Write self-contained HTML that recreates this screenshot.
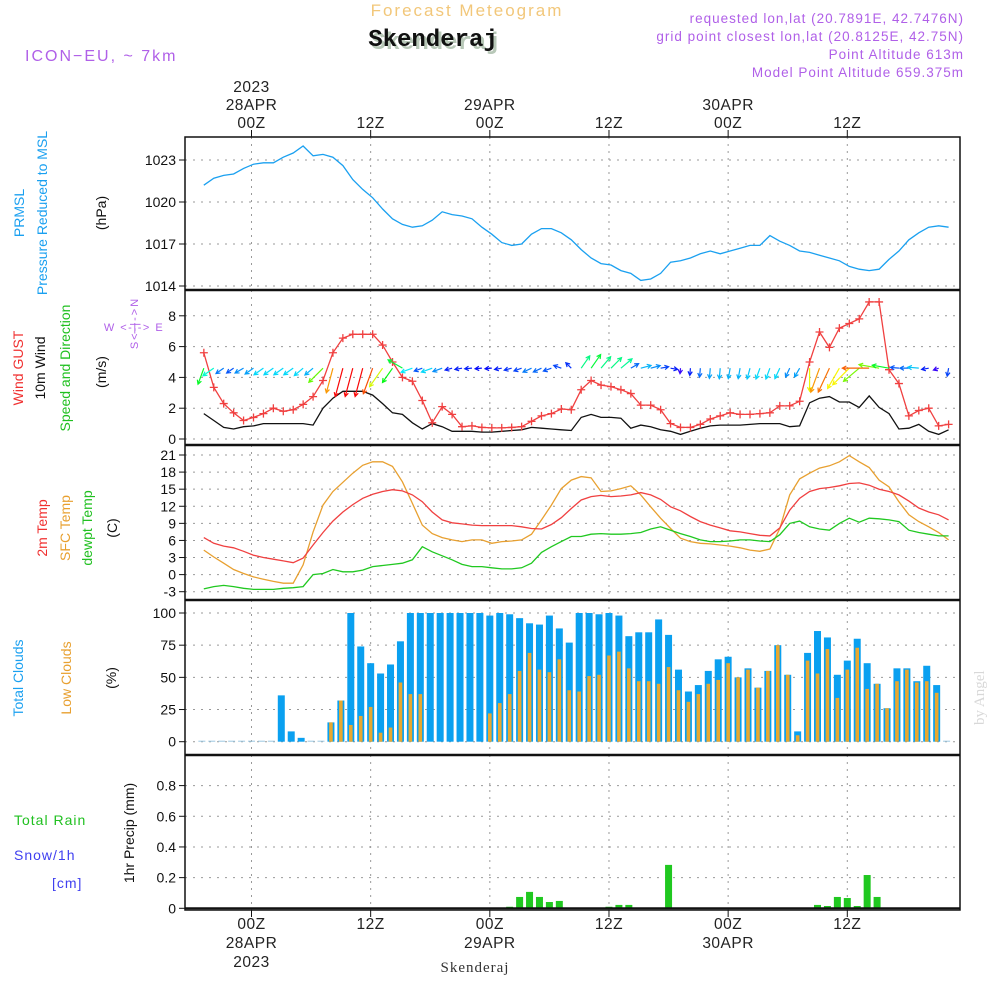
<!DOCTYPE html>
<html><head><meta charset="utf-8"><style>
html,body{margin:0;padding:0;background:#fff;}
svg{display:block;font-family:"Liberation Sans",sans-serif;}
</style></head><body>
<svg id="chart" width="1000" height="1000" viewBox="0 0 1000 1000" xmlns="http://www.w3.org/2000/svg">
<rect width="1000" height="1000" fill="#fff"/>
<text x="467" y="16" text-anchor="middle" font-size="17" fill="#f2c77a" letter-spacing="2">Forecast Meteogram</text>
<text x="436" y="49" text-anchor="middle" font-family="Liberation Mono,monospace" font-weight="bold" font-size="24" fill="#b8c8b8">Skenderaj</text>
<text x="433" y="46" text-anchor="middle" font-family="Liberation Mono,monospace" font-weight="bold" font-size="24" fill="#111">Skenderaj</text>
<text x="25" y="61" font-size="16" fill="#b060e8" letter-spacing="2">ICON−EU, ~ 7km</text>
<g font-size="13.5" fill="#b060e8" text-anchor="end" letter-spacing="1">
<text x="964" y="23">requested lon,lat (20.7891E, 42.7476N)</text>
<text x="964" y="41">grid point closest lon,lat (20.8125E, 42.75N)</text>
<text x="964" y="59">Point Altitude 613m</text>
<text x="964" y="77">Model Point Altitude 659.375m</text>
</g>
<text transform="translate(984,725) rotate(-90)" font-family="Liberation Serif,serif" font-size="15" fill="#d8d8d8">by Angel</text>
<text x="475" y="972" text-anchor="middle" font-family="Liberation Serif,serif" font-size="15" fill="#333" letter-spacing="1">Skenderaj</text>

<g font-size="14">
<text transform="translate(24,213) rotate(-90)" text-anchor="middle" fill="#1aa0f0">PRMSL</text>
<text transform="translate(47,213) rotate(-90)" text-anchor="middle" fill="#1aa0f0">Pressure Reduced to MSL</text>
<text transform="translate(106,213) rotate(-90)" text-anchor="middle" fill="#111">(hPa)</text>
<text transform="translate(23,368) rotate(-90)" text-anchor="middle" fill="#f03030">Wind GUST</text>
<text transform="translate(45,368) rotate(-90)" text-anchor="middle" fill="#111">10m Wind</text>
<text transform="translate(70,368) rotate(-90)" text-anchor="middle" fill="#20c020">Speed and Direction</text>
<text transform="translate(106,372) rotate(-90)" text-anchor="middle" fill="#111">(m/s)</text>
<text transform="translate(47,528) rotate(-90)" text-anchor="middle" fill="#f03030">2m Temp</text>
<text transform="translate(70,528) rotate(-90)" text-anchor="middle" fill="#e8a030">SFC Temp</text>
<text transform="translate(92,528) rotate(-90)" text-anchor="middle" fill="#20c020">dewpt Temp</text>
<text transform="translate(117,528) rotate(-90)" text-anchor="middle" fill="#111">(C)</text>
<text transform="translate(23,678) rotate(-90)" text-anchor="middle" fill="#1aa0f0">Total Clouds</text>
<text transform="translate(71,678) rotate(-90)" text-anchor="middle" fill="#e8a030">Low Clouds</text>
<text transform="translate(116,678) rotate(-90)" text-anchor="middle" fill="#111">(%)</text>
<text x="14" y="825" fill="#20c020" letter-spacing="1">Total  Rain</text>
<text x="14" y="860" fill="#4040f0" letter-spacing="1">Snow/1h</text>
<text x="52" y="888" fill="#4040f0" letter-spacing="1">[cm]</text>
<text transform="translate(134,833) rotate(-90)" text-anchor="middle" fill="#111">1hr Precip (mm)</text>
</g>
<g fill="#b060e8" font-size="11">
<text x="134" y="331" text-anchor="middle" letter-spacing="1.5">W  &lt;-|-&gt;  E</text>
<text transform="translate(138,323) rotate(-90)" text-anchor="middle" letter-spacing="2">S&lt;-|-&gt;N</text>
</g>
<g id="plot"></g>
</svg>
<script>
const hours0 = -5;
const pressure = [1021.2,1021.7,1021.9,1022.0,1022.4,1022.7,1022.8,1022.8,1023.2,1023.5,1024.0,1023.3,1023.4,1023.2,1022.6,1021.6,1020.9,1020.3,1019.5,1018.8,1018.4,1018.2,1018.3,1018.7,1019.3,1019.1,1019.0,1018.8,1018.2,1017.7,1017.1,1016.9,1017.0,1017.7,1018.1,1018.1,1017.8,1017.3,1016.6,1016.0,1015.6,1015.5,1015.1,1014.9,1014.4,1014.5,1014.9,1015.7,1015.8,1016.0,1016.3,1016.5,1016.3,1016.5,1016.7,1016.9,1016.9,1017.6,1017.2,1016.9,1016.5,1016.4,1016.2,1016.0,1015.8,1015.4,1015.2,1015.1,1015.2,1015.9,1016.5,1017.3,1017.8,1018.2,1018.3,1018.2];
const gust = [5.6,3.35,2.3,1.7,1.2,1.4,1.65,2.0,1.8,1.9,2.25,2.75,3.8,5.6,6.55,6.8,6.8,6.8,6.1,5.0,4.0,3.75,2.5,1.05,2.1,1.6,0.8,0.85,0.75,0.72,0.72,0.75,0.8,1.15,1.5,1.65,1.95,1.9,3.2,3.8,3.5,3.4,3.2,2.95,2.2,2.2,1.9,1.0,0.75,0.75,0.95,1.3,1.5,1.7,1.6,1.6,1.65,1.7,2.15,2.15,2.45,5.0,6.95,5.95,7.2,7.5,7.8,8.9,8.9,4.5,3.6,1.5,1.85,2.0,0.85,0.95];
const windSpeed = [1.65,1.2,0.75,0.65,0.8,0.85,1.0,1.0,1.0,1.0,1.0,0.9,2.0,2.65,3.1,3.1,3.1,2.85,2.3,1.7,1.6,1.05,0.65,1.0,0.8,0.5,0.5,0.5,0.45,0.45,0.5,0.55,0.6,0.75,0.7,0.65,0.6,0.55,1.4,1.6,1.4,1.4,1.35,0.7,0.9,0.8,0.6,0.5,0.3,0.5,0.7,0.85,0.9,0.9,0.9,0.95,1.0,1.0,1.0,0.8,0.85,2.35,2.65,2.75,2.4,2.4,2.05,2.8,2.05,1.65,0.65,0.7,0.95,0.5,0.3,0.6];
const windTo = [200,235,235,235,240,235,235,235,235,235,230,230,225,195,195,195,195,200,215,215,300,250,250,250,250,255,260,265,265,265,260,255,250,245,245,250,290,315,35,35,40,45,50,60,75,75,80,100,185,185,185,185,185,190,190,195,200,200,205,205,210,180,200,205,210,225,230,270,280,280,275,270,275,260,250,190];
const temp2m = [6.5,5.5,5.0,4.7,4.1,3.4,3.0,2.7,2.4,2.1,2.9,5.2,7.4,9.4,11.0,12.3,13.4,14.1,14.6,14.9,14.7,14.0,12.8,11.0,9.6,9.1,8.9,8.7,8.6,8.6,8.6,8.6,8.4,8.1,8.0,8.8,10.0,11.6,13.1,13.7,13.9,13.7,13.8,14.0,14.4,14.0,13.2,11.9,11.2,10.2,9.3,8.7,8.2,7.7,7.5,7.2,6.9,6.8,8.2,11.3,13.4,14.6,15.1,15.3,15.6,16.0,16.1,15.7,15.0,14.6,14.0,12.9,11.7,11.0,10.5,9.6];
const tempSfc = [4.3,3.1,2.0,0.9,0.2,-0.4,-0.8,-1.2,-1.5,-1.5,1.7,7.5,12.2,14.6,16.2,17.8,19.2,19.8,19.8,19.0,16.3,12.5,8.7,7.2,6.5,6.1,5.8,6.1,6.1,5.5,5.8,5.9,6.1,7.1,9.6,12.2,15.1,16.6,17.2,17.0,14.6,14.7,15.1,15.6,14.0,11.9,9.9,8.1,6.4,5.8,5.5,5.4,5.2,5.0,4.7,4.3,4.1,4.5,8.1,14.0,16.8,17.8,18.7,19.1,19.8,20.9,19.8,18.8,16.6,15.4,12.8,10.5,9.3,8.4,7.4,6.1];
const dewpt = [-2.5,-2.1,-1.9,-2.1,-2.4,-2.6,-2.6,-2.6,-2.4,-2.3,-2.1,0.0,0.2,0.9,0.5,0.5,0.8,1.4,1.6,1.8,2.0,2.6,4.9,4.0,3.3,2.6,1.8,1.4,1.4,1.2,1.0,1.0,1.2,2.0,3.9,4.9,5.8,6.7,6.7,7.1,7.2,7.1,7.1,7.2,7.4,8.0,8.4,7.8,7.2,6.7,6.1,5.8,5.8,5.9,6.1,6.1,5.9,5.8,7.0,9.0,9.4,8.4,8.0,7.8,9.0,9.9,9.2,9.9,9.8,9.6,9.3,7.8,7.4,7.1,6.8,6.8];
const totalClouds = [0,0,0,0,0,0,0,0,36,8,3,0,0,15,32,100,74,61,53,60,78,100,100,100,100,100,100,100,100,98,100,99,96,92,91,98,88,77,100,100,99,100,98,82,85,85,95,83,56,39,44,55,64,66,50,57,42,55,75,52,8,69,86,81,52,63,80,61,45,26,57,57,47,59,44,0];
const lowClouds = [0,0,0,0,0,0,0,0,0,0,0,0,0,15,32,13,20,27,7,11,46,37,37,0,0,0,0,0,0,22,30,37,55,69,56,54,64,40,39,51,52,67,70,57,47,47,45,58,40,31,37,45,48,61,50,56,42,55,75,52,5,63,53,72,34,56,73,41,45,26,47,56,46,47,38,0];
const precip = [0,0,0,0,0,0,0,0,0,0,0,0,0,0,0,0,0,0,0,0,0,0,0,0,0,0,0,0,0,0,0,0.01,0.074,0.107,0.074,0.041,0.048,0,0,0,0,0.01,0.022,0.022,0,0,0,0.283,0,0,0,0,0,0,0,0,0,0,0,0,0,0,0.022,0.015,0.074,0.067,0.015,0.217,0.074,0,0,0,0,0,0,0];
const pTicks = [1014,1017,1020,1023];
const wTicks = [0,2,4,6,8];
const tTicks = [-3,0,3,6,9,12,15,18,21];
const cTicks = [0,25,50,75,100];
const rTicks = [0,0.2,0.4,0.6,0.8];
const timeTicks = [0,12,24,36,48,60];
const topLabels = [["2023","28APR","00Z"],["","","12Z"],["","29APR","00Z"],["","","12Z"],["","30APR","00Z"],["","","12Z"]];
const bottomLabels = [["00Z","28APR","2023"],["12Z","",""],["00Z","29APR",""],["12Z","",""],["00Z","30APR",""],["12Z","",""]];

const NS="http://www.w3.org/2000/svg";
const plot=document.getElementById('plot');
function mk(tag,attrs,parent){const e=document.createElementNS(NS,tag);for(const k in attrs)e.setAttribute(k,attrs[k]);(parent||plot).appendChild(e);return e;}
const L=185,R=960;
function X(h){return 251.5+h*9.93;}
function XL(h){return X(h)+2;}
function lin(v0,y0,v1,y1){return v=>y0+(v-v0)*(y1-y0)/(v1-v0);}
const yP=lin(1014,286,1023,160), yW=lin(0,439,8,315.8), yT=lin(-3,591.7,21,455), yC=lin(0,741.7,100,613), yR=lin(0,908.3,0.8,785.6);
const panels=[[137,290,yP,pTicks,v=>String(v)],[290,445,yW,wTicks,v=>String(v)],[445,600,yT,tTicks,v=>String(v)],[600,755,yC,cTicks,v=>String(v)],[755,910,yR,rTicks,v=>v===0?"0":v.toFixed(1)]];
const pnames=['pressure-panel','wind-panel','temperature-panel','clouds-panel','precip-panel'];
panels.forEach((p,pi)=>{
  const g=mk('g',{});
  
  
  timeTicks.forEach(h=>{const l=mk('line',{x1:X(h),x2:X(h),y1:p[0],y2:p[1],stroke:'#999','stroke-dasharray':'2,5','stroke-width':1},g);
    
    });
  p[3].forEach(v=>{const y=p[2](v);
    const l=mk('line',{x1:L,x2:R,y1:y,y2:y,stroke:'#999','stroke-dasharray':'2,6','stroke-width':1},g);
    
    
    mk('line',{x1:L-6,x2:L,y1:y,y2:y,stroke:'#111','stroke-width':1},g);
    const t=mk('text',{x:L-9,y:y+5,'text-anchor':'end','font-size':14,fill:'#111'},g);t.textContent=p[4](v);
    
    });
});
const fr=mk('rect',{x:L,y:137,width:R-L,height:773,fill:'none',stroke:'#111','stroke-width':1.5});


[290,445,600,755].forEach(y=>{const l=mk('line',{x1:L,x2:R,y1:y,y2:y,stroke:'#111','stroke-width':2.5});
  
  });
timeTicks.forEach((h,k)=>{
  mk('line',{x1:X(h),x2:X(h),y1:130,y2:137,stroke:'#111'});
  mk('line',{x1:X(h),x2:X(h),y1:910,y2:917,stroke:'#111'});
  topLabels[k].forEach((s,j)=>{if(!s)return;const t=mk('text',{x:X(h),y:92+j*18,'text-anchor':'middle','font-size':15.5,fill:'#222','letter-spacing':0.5});t.textContent=s;
    
    });
  bottomLabels[k].forEach((s,j)=>{if(!s)return;const t=mk('text',{x:X(h),y:929+j*19,'text-anchor':'middle','font-size':15.5,fill:'#222','letter-spacing':0.5});t.textContent=s;
    
    });
});
function line(arr,yf,color,name){
  const pts=arr.map((v,i)=>XL(i+hours0).toFixed(1)+','+yf(v).toFixed(1)).join(' ');
  const e=mk('polyline',{points:pts,fill:'none',stroke:color,'stroke-width':1.3});
  
  
  return e;
}
line(pressure,yP,'#1aa0f0','pressure-line');
line(windSpeed,yW,'#111','wind-speed-line');
line(gust,yW,'#f04040','gust-line');
gust.forEach((v,i)=>{const x=XL(i+hours0),y=yW(v);
  const m=mk('path',{d:`M${x-4},${y}H${x+4}M${x},${y-4}V${y+4}`,stroke:'#f04040','stroke-width':1.3});
  
  });
const baseY=yW(4.6);
windSpeed.forEach((s,i)=>{
  const x=XL(i+hours0);const a=windTo[i]*Math.PI/180;const len=3+8.5*s;
  const dx=Math.sin(a)*len, dy=-Math.cos(a)*len;
  const hue=Math.max(0,280-s*92);const col=`hsl(${hue},95%,50%)`;
  const x2=x+dx,y2=baseY+dy;const ang=Math.atan2(dy,dx);
  const hx1=x2-4.5*Math.cos(ang-0.5),hy1=y2-4.5*Math.sin(ang-0.5),hx2=x2-4.5*Math.cos(ang+0.5),hy2=y2-4.5*Math.sin(ang+0.5);
  const e=mk('path',{d:`M${x},${baseY}L${x2},${y2}M${hx1},${hy1}L${x2},${y2}L${hx2},${hy2}`,stroke:col,'stroke-width':1.2,fill:'none'});
  
  
});
line(tempSfc,yT,'#e8a030','sfc-temp-line');
line(temp2m,yT,'#f04040','temp-2m-line');
line(dewpt,yT,'#20c820','dewpt-line');
totalClouds.forEach((v,i)=>{const x=X(i+hours0);const y=yC(v);
  const b=mk('rect',{x:x-3.5,y:v>0?y:yC(0)-1,width:7,height:v>0?yC(0)-y:1,fill:v>0?'#0aa0f0':'#9cc8e0'});
  
  });
lowClouds.forEach((v,i)=>{if(v<=0)return;const x=X(i+hours0);const y=yC(v);
  const b=mk('rect',{x:x-1.8,y:y,width:3.6,height:yC(0)-y,fill:'#e8a830'});
  
  });
precip.forEach((v,i)=>{if(v<=0)return;const x=X(i+hours0);const y=yR(v);
  const b=mk('rect',{x:x-3.5,y:y,width:7,height:yR(0)-y,fill:'#20c820'});
  
  });
const bl=mk('line',{x1:L,x2:R,y1:yR(0),y2:yR(0),stroke:'#111','stroke-width':2});


</script>
</body></html>
